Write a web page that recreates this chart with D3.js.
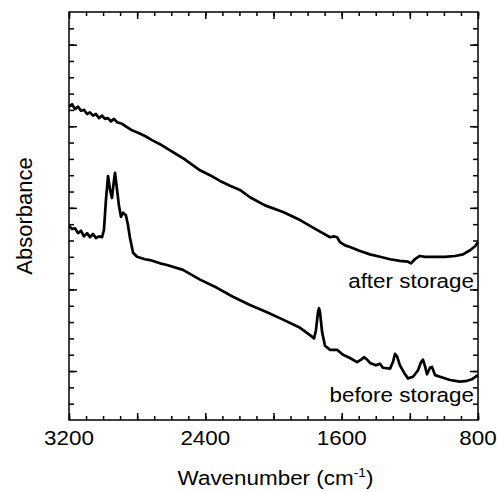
<!DOCTYPE html>
<html>
<head>
<meta charset="utf-8">
<script src="https://cdn.jsdelivr.net/npm/d3@7"></script>
<style>
  body { margin: 0; background: #fff; }
  svg { display: block; }
  text { font-family: "Liberation Sans", Arial, sans-serif; fill: #000; }
</style>
</head>
<body>
<div id="chart"></div>
<script>
// FTIR spectra (wavenumber in cm-1, absorbance in arb. units)
const beforeWavenumber = [3200, 3182, 3165, 3147, 3130, 3112, 3094, 3077, 3059, 3042, 3024, 3006,
  2995, 2983, 2971, 2959, 2948, 2936, 2930, 2918, 2907, 2895, 2883, 2866, 2854, 2842, 2824, 2801,
  2754, 2725, 2666, 2625, 2531, 2431, 2332, 2238, 2138, 2038, 1944, 1844, 1786, 1762, 1751, 1739,
  1733, 1727, 1715, 1698, 1668, 1627, 1592, 1551, 1510, 1486, 1469, 1451, 1434, 1399, 1375, 1358,
  1316, 1299, 1287, 1275, 1258, 1234, 1211, 1181, 1152, 1134, 1123, 1111, 1099, 1082, 1070, 1052,
  1023, 964, 906, 864, 835, 800]
const beforeAbsorbance = [0.178, 0.174, 0.175, 0.169, 0.172, 0.165, 0.169, 0.164, 0.168, 0.163, 0.165, 0.164,
  0.173, 0.210, 0.239, 0.222, 0.212, 0.234, 0.243, 0.222, 0.203, 0.189, 0.194, 0.191, 0.179, 0.163, 0.145, 0.140,
  0.137, 0.136, 0.132, 0.130, 0.124, 0.112, 0.102, 0.091, 0.081, 0.072, 0.063, 0.053, 0.044, 0.040, 0.050, 0.072,
  0.077, 0.072, 0.048, 0.031, 0.026, 0.026, 0.020, 0.016, 0.011, 0.014, 0.017, 0.014, 0.010, 0.007, 0.009, 0.004,
  0.003, 0.011, 0.021, 0.018, 0.007, -0.002, -0.009, -0.007, 0.001, 0.011, 0.014, 0.006, -0.004, 0.004, 0.005, -0.005,
  -0.007, -0.011, -0.013, -0.012, -0.010, -0.005]

const afterWavenumber = [3200, 3182, 3165, 3147, 3130, 3112, 3094, 3077, 3059, 3042, 3024, 3006,
  2989, 2971, 2954, 2936, 2918, 2889, 2860, 2830, 2795, 2754, 2713, 2666, 2619, 2572, 2525, 2478,
  2431, 2373, 2314, 2255, 2197, 2138, 2050, 1944, 1844, 1745, 1668, 1645, 1627, 1610, 1580, 1551,
  1492, 1434, 1375, 1316, 1258, 1211, 1193, 1170, 1141, 1111, 1052, 994, 935, 888, 847, 817, 800]
const afterAbsorbance = [0.324, 0.327, 0.321, 0.324, 0.319, 0.320, 0.315, 0.317, 0.313, 0.315, 0.310, 0.313,
  0.309, 0.310, 0.306, 0.309, 0.305, 0.303, 0.299, 0.295, 0.292, 0.288, 0.283, 0.278, 0.272, 0.266, 0.260, 0.253,
  0.246, 0.240, 0.233, 0.227, 0.222, 0.213, 0.203, 0.195, 0.185, 0.173, 0.164, 0.165, 0.164, 0.158, 0.154, 0.152,
  0.147, 0.143, 0.140, 0.137, 0.135, 0.134, 0.132, 0.137, 0.141, 0.140, 0.140, 0.140, 0.141, 0.143, 0.148, 0.153, 0.158]

const xLabelTicks = [3200, 2400, 1600, 800]
const seriesLabels = ["after storage", "before storage"]
const xTitle = "Wavenumber (cm"
const yTitle = "Absorbance"

const width = 497
const height = 492
const margin = { top: 12, right: 19, bottom: 72, left: 69 }
const plotW = width - margin.left - margin.right
const plotH = height - margin.top - margin.bottom
const stretch = 1.15

const svg = d3.select("#chart")
  .append("svg")
  .attr("width", width)
  .attr("height", height)

const g = svg.append("g")
  .attr("transform", `translate(${margin.left},${margin.top})`)

const x = d3.scaleLinear().domain([3200, 800]).range([0, plotW])
const y = d3.scaleLinear().domain([-0.06, 0.44]).range([plotH, 0])

const minorX = d3.range(800, 3201, 100)
const majorX = d3.range(800, 3201, 400)
const minorY = d3.range(-0.04, 0.44, 0.02)
const majorY = [0, 0.1, 0.2, 0.3, 0.4]

// inward ticks on all four sides
function addTicks(axisFn, scale, values, size, transform) {
  g.append("g")
    .attr("transform", transform)
    .call(axisFn(scale).tickValues(values).tickSize(-size).tickFormat(""))
    .call(a => a.select(".domain").remove())
    .selectAll("line").attr("stroke", "#000").attr("stroke-width", 1.5)
}
addTicks(d3.axisBottom, x, minorX, 4, `translate(0,${plotH})`)
addTicks(d3.axisBottom, x, majorX, 7, `translate(0,${plotH})`)
addTicks(d3.axisTop, x, minorX, 4, "translate(0,0)")
addTicks(d3.axisTop, x, majorX, 7, "translate(0,0)")
addTicks(d3.axisLeft, y, minorY, 5, "translate(0,0)")
addTicks(d3.axisLeft, y, majorY, 8, "translate(0,0)")
addTicks(d3.axisRight, y, minorY, 5, `translate(${plotW},0)`)
addTicks(d3.axisRight, y, majorY, 8, `translate(${plotW},0)`)

// frame
g.append("rect")
  .attr("width", plotW)
  .attr("height", plotH)
  .attr("fill", "none")
  .attr("stroke", "#000")
  .attr("stroke-width", 1.5)

// x tick labels
g.selectAll(".xlab")
  .data(xLabelTicks)
  .enter().append("text")
  .attr("transform", d => `translate(${x(d)},${plotH + 25}) scale(${stretch},1)`)
  .attr("text-anchor", "middle")
  .attr("font-size", "19.5px")
  .text(d => d)

const line = d3.line()
  .x(d => x(d[0]))
  .y(d => y(d[1]))

const spectra = [
  d3.zip(afterWavenumber, afterAbsorbance),
  d3.zip(beforeWavenumber, beforeAbsorbance)
]

g.selectAll(".spectrum")
  .data(spectra)
  .enter().append("path")
  .attr("fill", "none")
  .attr("stroke", "#000")
  .attr("stroke-width", 2.7)
  .attr("stroke-linejoin", "round")
  .attr("d", line)

// curve labels, right aligned under each spectrum
const labelY = [0.102, -0.038].map(v => y(v))
g.selectAll(".slab")
  .data(seriesLabels)
  .enter().append("text")
  .attr("transform", (d, i) => `translate(${plotW - 4},${labelY[i]}) scale(${stretch},1)`)
  .attr("text-anchor", "end")
  .attr("font-size", "19.5px")
  .text(d => d)

// axis titles
const xt = svg.append("text")
  .attr("transform", `translate(${margin.left + plotW / 2 + 2},${height - 7}) scale(${stretch},1)`)
  .attr("text-anchor", "middle")
  .attr("font-size", "19.5px")
xt.append("tspan").text(xTitle)
xt.append("tspan").attr("font-size", "12px").attr("dy", -8).text("-1")
xt.append("tspan").attr("dy", 8).text(")")

svg.append("text")
  .attr("transform", `translate(32,${margin.top + plotH / 2}) rotate(-90)`)
  .attr("text-anchor", "middle")
  .attr("font-size", "22px")
  .text(yTitle)
</script>
</body>
</html>
